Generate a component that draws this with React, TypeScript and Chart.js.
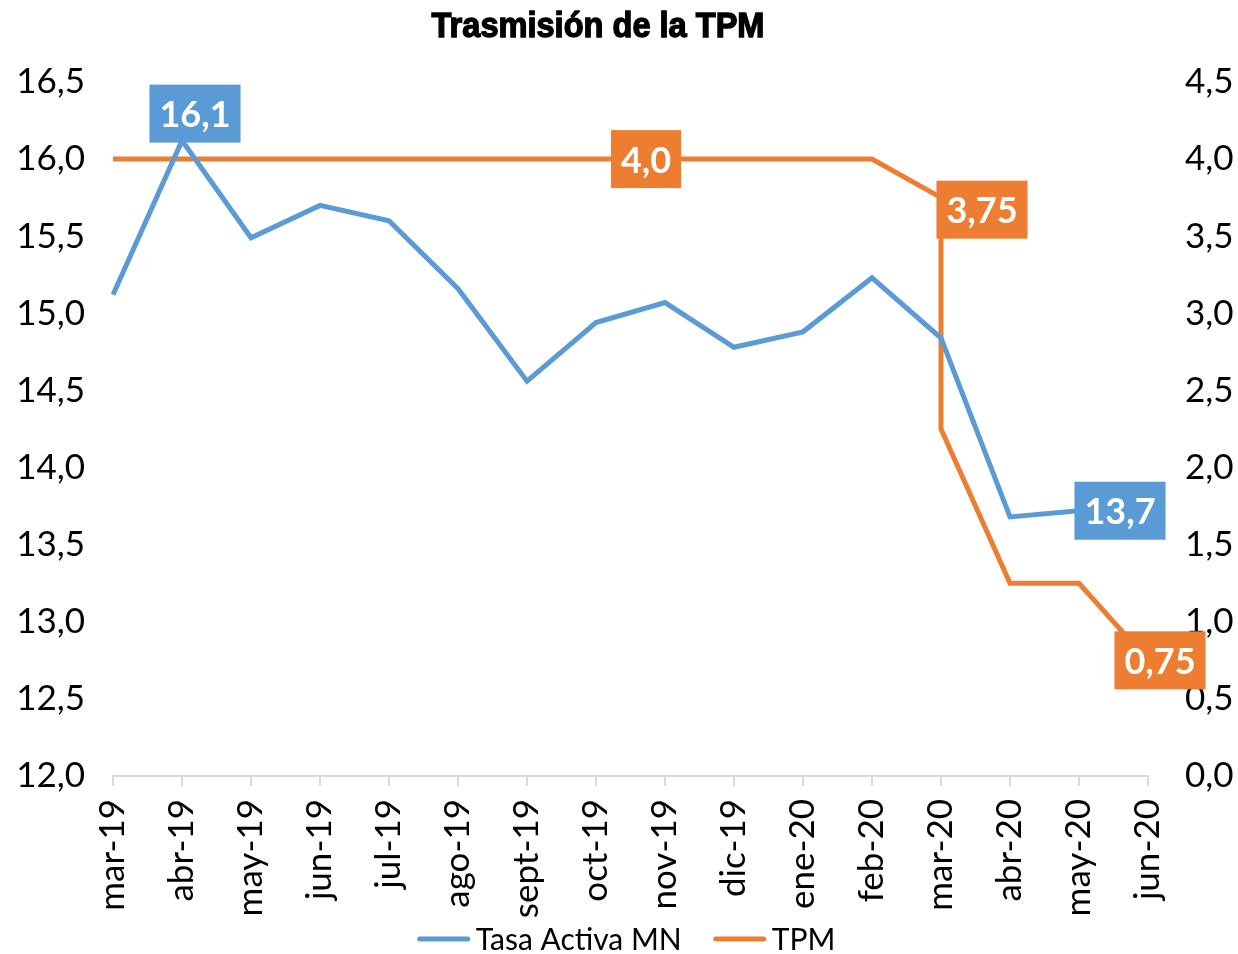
import React, { useEffect, useRef } from "react";
import { Chart, registerables } from "chart.js";

Chart.register(...registerables);

const titleText = "Trasmisión de la TPM";

const months = [
  "mar-19", "abr-19", "may-19", "jun-19", "jul-19", "ago-19", "sept-19", "oct-19",
  "nov-19", "dic-19", "ene-20", "feb-20", "mar-20", "abr-20", "may-20", "jun-20",
];

const tasaActiva: (number | null)[] = [
  15.12, 16.12, 15.49, 15.7, 15.6, 15.16, 14.56, 14.94,
  15.07, 14.78, 14.88, 15.23, 14.84, 13.68, 13.72, null,
];

const tpmPeriods = [
  "mar-19", "abr-19", "may-19", "jun-19", "jul-19", "ago-19", "sept-19", "oct-19",
  "nov-19", "dic-19", "ene-20", "feb-20", "mar-20", "mar-20", "abr-20", "may-20", "jun-20",
];
const tpmValues = [4, 4, 4, 4, 4, 4, 4, 4, 4, 4, 4, 4, 3.75, 2.25, 1.25, 1.25, 0.75];

const BLUE = "#5B9BD5";
const ORANGE = "#ED7D31";
const FONT = "Lato, 'Open Sans', sans-serif";

// data labels: dataset, point index, text, offset of box centre from point
const labelDataset = [0, 1, 1, 0, 1];
const labelIndex = [1, 8, 12, 14, 16];
const labelText = ["16,1", "4,0", "3,75", "13,7", "0,75"];
const labelDx = [13, -19, 41, 41, 12];
const labelDy = [-27, 0, 12, 0, 0];

const fmt = (v: number | string) => Number(v).toFixed(1).replace(".", ",");

const dataLabelPlugin = {
  id: "boxLabels",
  afterDraw(chart: any) {
    const ctx = chart.ctx;
    ctx.save();
    ctx.font = `bold 36px ${FONT}`;
    ctx.textAlign = "center";
    ctx.textBaseline = "middle";
    for (let i = 0; i < labelText.length; i++) {
      const meta = chart.getDatasetMeta(labelDataset[i]);
      const el = meta.data[labelIndex[i]];
      if (!el) continue;
      const cx = el.x + labelDx[i];
      const cy = el.y + labelDy[i];
      const w = ctx.measureText(labelText[i]).width + 20;
      const h = 58;
      ctx.fillStyle = labelDataset[i] === 0 ? BLUE : ORANGE;
      ctx.fillRect(cx - w / 2, cy - h / 2, w, h);
      ctx.fillStyle = "#fff";
      ctx.fillText(labelText[i], cx, cy + 2);
    }
    ctx.restore();
  },
};

const titleLegendPlugin = {
  id: "titleLegend",
  afterDraw(chart: any) {
    const ctx = chart.ctx;
    const area = chart.chartArea;
    ctx.save();
    // title (condensed heavy look)
    ctx.font = "bold 35px 'Liberation Sans', Arial, sans-serif";
    ctx.textBaseline = "alphabetic";
    ctx.textAlign = "center";
    const tw = ctx.measureText(titleText).width;
    const sx = 333 / tw;
    ctx.translate(598, 37);
    ctx.scale(sx, 1);
    ctx.fillStyle = "#000";
    ctx.strokeStyle = "#000";
    ctx.lineWidth = 1.4;
    ctx.fillText(titleText, 0, 0);
    ctx.strokeText(titleText, 0, 0);
    ctx.restore();

    // legend
    ctx.save();
    ctx.font = `30px ${FONT}`;
    ctx.textBaseline = "alphabetic";
    ctx.textAlign = "left";
    const ds = chart.data.datasets;
    const lineW = 52;
    const gap = 6;
    const itemGap = 32;
    const widths = ds.map((d: any) => ctx.measureText(d.label).width);
    const total = ds.reduce((s: number, _d: any, i: number) => s + lineW + gap + widths[i], 0) + itemGap * (ds.length - 1);
    let x = (area.left + area.right) / 2 - 4 - total / 2;
    const y = 939;
    ds.forEach((d: any, i: number) => {
      ctx.strokeStyle = d.borderColor;
      ctx.lineWidth = 5;
      ctx.lineCap = "round";
      ctx.beginPath();
      ctx.moveTo(x + 2, y);
      ctx.lineTo(x + lineW - 2, y);
      ctx.stroke();
      ctx.fillStyle = "#000";
      ctx.fillText(d.label, x + lineW + gap, 950);
      x += lineW + gap + widths[i] + itemGap;
    });
    ctx.restore();
  },
};

export default function App() {
  const ref = useRef<HTMLCanvasElement | null>(null);

  useEffect(() => {
    if (!ref.current) return;
    const chart = new Chart(ref.current, {
      type: "line",
      data: {
        labels: months,
        datasets: [
          {
            label: "Tasa Activa MN",
            data: tasaActiva,
            borderColor: BLUE,
            backgroundColor: BLUE,
            borderWidth: 5,
            pointRadius: 0,
            tension: 0,
            yAxisID: "y",
          },
          {
            label: "TPM",
            data: tpmPeriods.map((p, i) => ({ x: p, y: tpmValues[i] })),
            borderColor: ORANGE,
            backgroundColor: ORANGE,
            borderWidth: 5,
            pointRadius: 0,
            tension: 0,
            yAxisID: "y1",
          },
        ],
      },
      options: {
        animation: false,
        responsive: false,
        maintainAspectRatio: false,
        layout: { padding: { top: 82, bottom: 0, left: 0, right: 0 } },
        plugins: {
          title: { display: false },
          legend: { display: false },
          tooltip: { enabled: false },
        },
        scales: {
          x: {
            type: "category",
            offset: false,
            grid: {
              display: true,
              drawOnChartArea: false,
              drawTicks: true,
              tickLength: 10,
              color: "#d9d9d9",
              lineWidth: 2,
            },
            border: { display: true, color: "#d9d9d9", width: 2 },
            ticks: {
              autoSkip: false,
              maxRotation: 90,
              minRotation: 90,
              color: "#000",
              font: { family: FONT, size: 35 },
              padding: 13,
            },
            afterFit: (s: any) => {
              s.height = 178;
            },
          },
          y: {
            position: "left",
            min: 12,
            max: 16.5,
            grid: { display: false, drawTicks: false },
            border: { display: false },
            ticks: {
              stepSize: 0.5,
              color: "#000",
              font: { family: FONT, size: 35 },
              padding: 28,
              callback: (v: any) => fmt(v),
            },
            afterFit: (s: any) => {
              s.width = 113;
            },
          },
          y1: {
            position: "right",
            min: 0,
            max: 4.5,
            grid: { display: false, drawTicks: false },
            border: { display: false },
            ticks: {
              stepSize: 0.5,
              color: "#000",
              font: { family: FONT, size: 35 },
              padding: 37,
              callback: (v: any) => fmt(v),
            },
            afterFit: (s: any) => {
              s.width = 90;
            },
          },
        },
      } as any,
      plugins: [dataLabelPlugin, titleLegendPlugin],
    });
    return () => chart.destroy();
  }, []);

  return (
    <div style={{ position: "fixed", left: 0, top: 0, width: 1238, height: 954, background: "#fff" }}>
      <canvas ref={ref} width={1238} height={954} style={{ width: 1238, height: 954 }} />
    </div>
  );
}
